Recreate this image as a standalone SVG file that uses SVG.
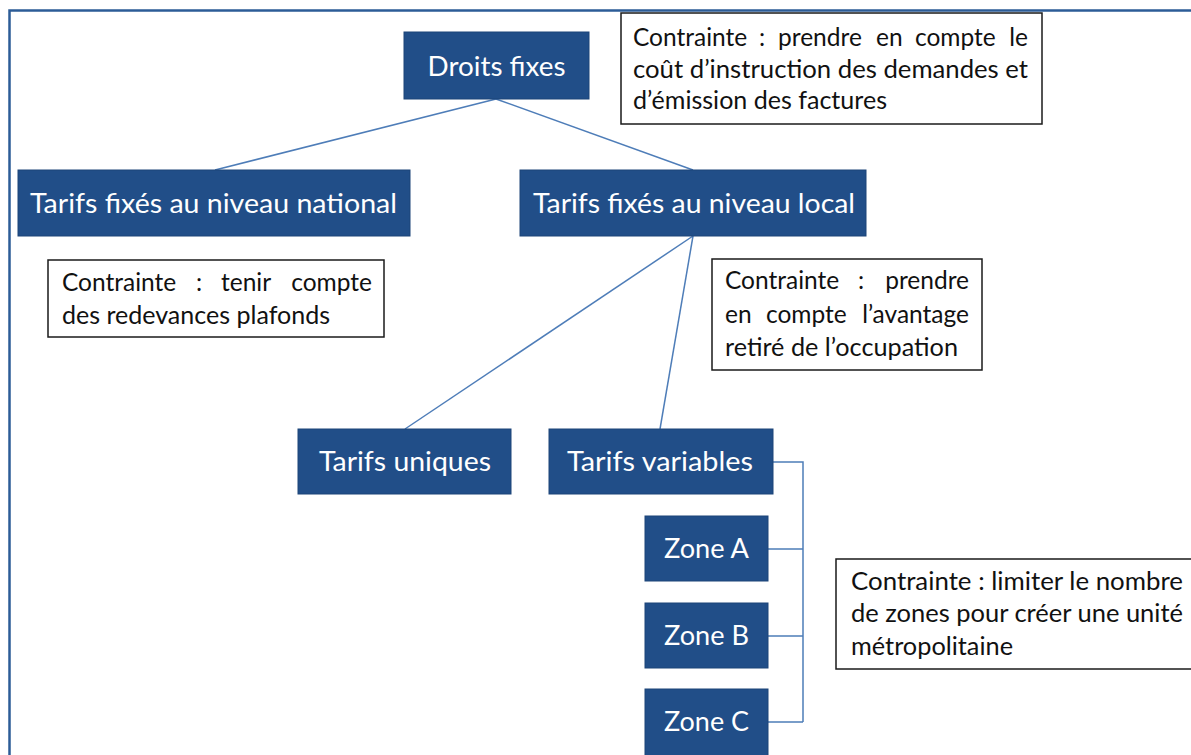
<svg xmlns="http://www.w3.org/2000/svg" width="1191" height="755" viewBox="0 0 1191 755">
<style>
.bg{fill:#ffffff}
.frame{fill:none;stroke:#2c5c97;stroke-width:2.5}
.node{fill:#214e88;stroke:#1c4478;stroke-width:1}
.nt{fill:#ffffff;font-family:Lato,"Open Sans",sans-serif;font-size:26px;text-anchor:middle}
.note{fill:#ffffff;stroke:#1a1a1a;stroke-width:1.5}
.tt{fill:#111111;font-family:Lato,"Open Sans",sans-serif;font-size:24.5px}
.e{text-anchor:end}
.conn{fill:none;stroke:#4e7db8;stroke-width:1.5}
</style>
<rect class="bg" x="0" y="0" width="1191" height="755"/>
<path class="frame" d="M9.5 760 V10.5 H1200"/>
<g id="connectors">
<line class="conn" x1="496" y1="99" x2="215" y2="170"/>
<line class="conn" x1="496" y1="99" x2="693" y2="170"/>
<line class="conn" x1="693" y1="236" x2="405" y2="429"/>
<line class="conn" x1="693" y1="236" x2="660" y2="429"/>
<path class="conn" d="M773 462 H803 V722 M768 549 H803 M768 636 H803 M768 722 H803"/>
</g>
<g id="n-droits">
<rect class="node" x="404" y="32" width="185" height="67"/>
<text class="nt" x="496.5" y="76" textLength="138" lengthAdjust="spacingAndGlyphs">Droits fixes</text>
</g>
<g id="n-national">
<rect class="node" x="18" y="170" width="392" height="66"/>
<text class="nt" x="213.5" y="213" textLength="367" lengthAdjust="spacingAndGlyphs">Tarifs fixés au niveau national</text>
</g>
<g id="n-local">
<rect class="node" x="520" y="170" width="346" height="66"/>
<text class="nt" x="694" y="213" textLength="322" lengthAdjust="spacingAndGlyphs">Tarifs fixés au niveau local</text>
</g>
<g id="n-uniques">
<rect class="node" x="298" y="429" width="213" height="65"/>
<text class="nt" x="405" y="471" textLength="172" lengthAdjust="spacingAndGlyphs">Tarifs uniques</text>
</g>
<g id="n-variables">
<rect class="node" x="549" y="429" width="224" height="65"/>
<text class="nt" x="660" y="471" textLength="186" lengthAdjust="spacingAndGlyphs">Tarifs variables</text>
</g>
<g id="n-zoneA">
<rect class="node" x="645" y="516" width="123" height="65"/>
<text class="nt" x="706.5" y="558" textLength="85" lengthAdjust="spacingAndGlyphs">Zone A</text>
</g>
<g id="n-zoneB">
<rect class="node" x="645" y="603" width="123" height="65"/>
<text class="nt" x="706.5" y="645" textLength="85" lengthAdjust="spacingAndGlyphs">Zone B</text>
</g>
<g id="n-zoneC">
<rect class="node" x="645" y="689" width="123" height="70"/>
<text class="nt" x="706.5" y="731" textLength="85" lengthAdjust="spacingAndGlyphs">Zone C</text>
</g>
<g id="note-droits">
<rect class="note" x="621" y="13" width="421" height="111"/>
<text class="tt" y="46"><tspan x="633">Contrainte</tspan><tspan x="759">:</tspan><tspan x="778">prendre</tspan><tspan x="876">en</tspan><tspan x="915">compte</tspan></text>
<text class="tt e" x="1028" y="46">le</text>
<text class="tt" x="633" y="78" textLength="395" lengthAdjust="spacingAndGlyphs">coût d’instruction des demandes et</text>
<text class="tt" x="633" y="109" textLength="254" lengthAdjust="spacingAndGlyphs">d’émission des factures</text>
</g>
<g id="note-national">
<rect class="note" x="48" y="260" width="336" height="77"/>
<text class="tt" y="291"><tspan x="62">Contrainte</tspan><tspan x="196">:</tspan><tspan x="221">tenir</tspan></text>
<text class="tt e" x="372" y="291">compte</text>
<text class="tt" x="62" y="324" textLength="268" lengthAdjust="spacingAndGlyphs">des redevances plafonds</text>
</g>
<g id="note-local">
<rect class="note" x="712" y="259" width="270" height="111"/>
<text class="tt" y="289"><tspan x="725">Contrainte</tspan><tspan x="858">:</tspan></text>
<text class="tt e" x="969" y="289">prendre</text>
<text class="tt" y="323"><tspan x="725">en</tspan><tspan x="766">compte</tspan></text>
<text class="tt e" x="969" y="323">l’avantage</text>
<text class="tt" x="725" y="356" textLength="233" lengthAdjust="spacingAndGlyphs">retiré de l’occupation</text>
</g>
<g id="note-zones">
<rect class="note" x="836" y="559" width="370" height="110"/>
<text class="tt" x="851" y="590" textLength="332" lengthAdjust="spacingAndGlyphs">Contrainte : limiter le nombre</text>
<text class="tt" x="851" y="622" textLength="332" lengthAdjust="spacingAndGlyphs">de zones pour créer une unité</text>
<text class="tt" x="851" y="655" textLength="162" lengthAdjust="spacingAndGlyphs">métropolitaine</text>
</g>
</svg>
